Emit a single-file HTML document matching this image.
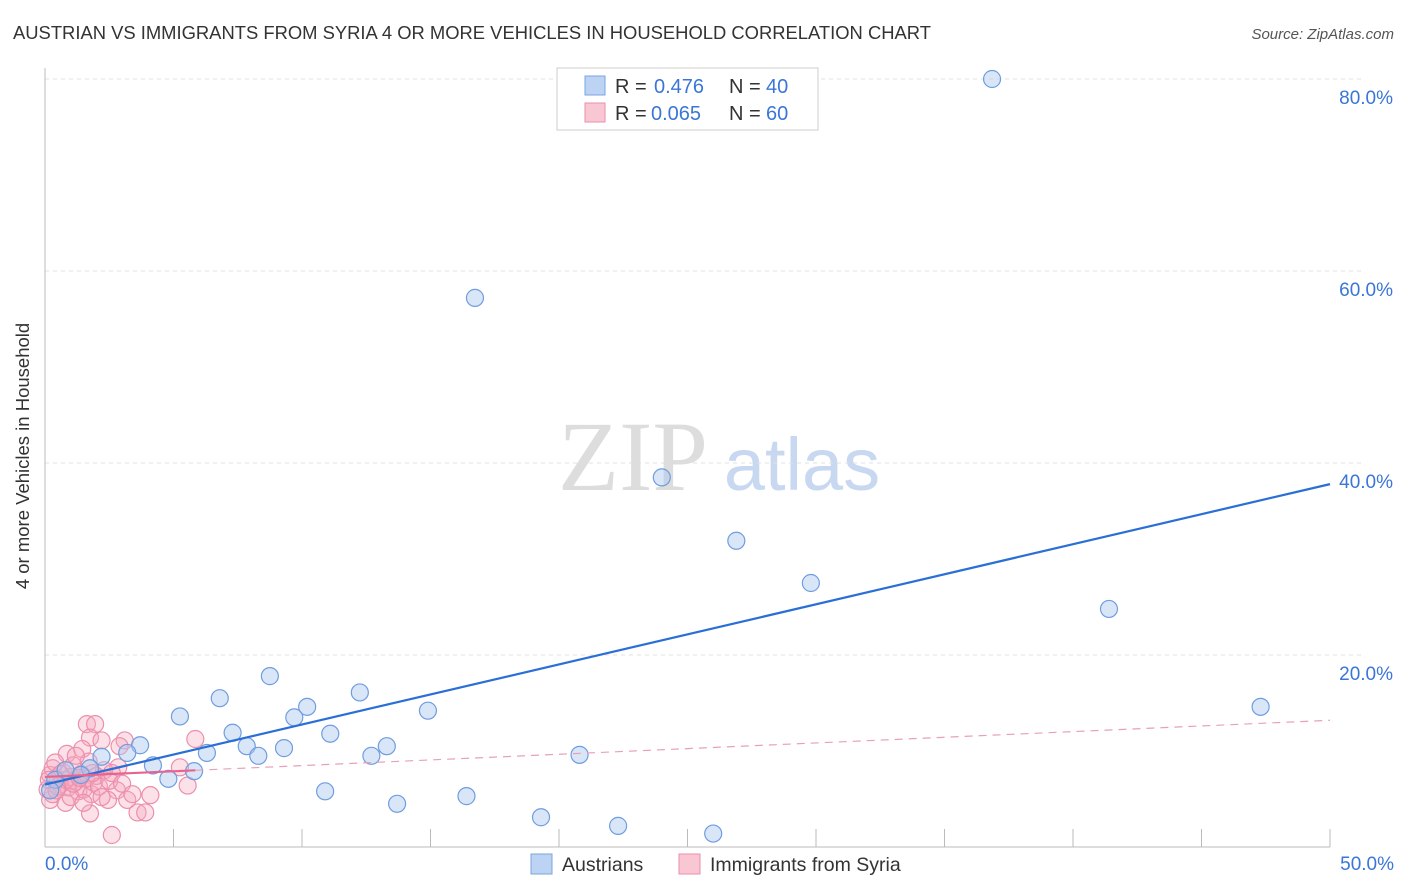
<!DOCTYPE html>
<html><head><meta charset="utf-8"><style>
body{margin:0;background:#fff;font-family:"Liberation Sans",sans-serif;}
svg{display:block}
</style></head><body>
<svg id="chart" width="1406" height="892">
<text x="13" y="39" font-size="18.4" fill="#333">AUSTRIAN VS IMMIGRANTS FROM SYRIA 4 OR MORE VEHICLES IN HOUSEHOLD CORRELATION CHART</text>
<text x="1394" y="39" font-size="15" fill="#555" font-style="italic" text-anchor="end">Source: ZipAtlas.com</text>
<text x="29" y="456" font-size="18.5" fill="#333" text-anchor="middle" transform="rotate(-90 29 456)">4 or more Vehicles in Household</text>
<g><text x="633" y="490" font-size="100" fill="#ddd" font-family="Liberation Serif" text-anchor="middle">ZIP</text><text x="802" y="490" font-size="74" fill="#c7d8f0" text-anchor="middle">atlas</text></g>
<g id="grid"></g><g id="axes"></g><g id="pts"></g><g id="lines"></g>
<g>
<rect x="557" y="68" width="261" height="62" fill="#fff" stroke="#ccc"/>
<rect x="585" y="76" width="20" height="19" fill="#bcd3f3" stroke="#7aa4e0"/>
<text x="615" y="93" font-size="20" fill="#333">R =</text><text x="654" y="93" font-size="20" fill="#3a76d8">0.476</text>
<text x="729" y="93" font-size="20" fill="#333">N =</text><text x="766" y="93" font-size="20" fill="#3a76d8">40</text>
<rect x="585" y="103" width="20" height="19" fill="#f9c6d4" stroke="#ea8fab"/>
<text x="615" y="120" font-size="20" fill="#333">R =</text><text x="651" y="120" font-size="20" fill="#3a76d8">0.065</text>
<text x="729" y="120" font-size="20" fill="#333">N =</text><text x="766" y="120" font-size="20" fill="#3a76d8">60</text>
</g>
<g>
<rect x="531" y="854" width="21" height="20" fill="#bcd3f3" stroke="#7aa4e0"/>
<text x="562" y="871" font-size="19.5" fill="#333">Austrians</text>
<rect x="679" y="854" width="21" height="20" fill="#f9c6d4" stroke="#ea8fab"/>
<text x="710" y="871" font-size="19.5" fill="#333">Immigrants from Syria</text>
</g>
</svg>
<script>
const xTicks=[0,5,10,15,20,25,30,35,40,45,50];
const yGrid=[20,40,60,80];
const yLabels=["20.0%","40.0%","60.0%","80.0%"];
const blueX=[36.85,16.73,24.0,26.9,29.8,41.4,47.3,8.75,6.8,12.25,5.25,10.2,9.7,14.9,7.3,11.1,3.7,7.85,9.3,13.3,3.2,6.3,8.3,12.7,20.8,2.2,4.2,5.8,4.8,1.75,10.9,16.4,13.7,19.3,22.3,26.0,0.4,0.8,1.4,0.2];
const blueY=[80,57.2,38.5,31.9,27.5,24.8,14.6,17.8,15.5,16.1,13.6,14.6,13.5,14.2,11.9,11.8,10.6,10.5,10.3,10.5,9.8,9.8,9.5,9.5,9.6,9.4,8.5,7.9,7.1,8.2,5.8,5.3,4.5,3.1,2.2,1.4,7.0,8.0,7.5,5.9];
const pinkX=[1.63,1.95,1.75,2.2,3.1,5.85,0.85,1.45,2.85,5.25,5.55,2.8,3.2,2.45,1.75,3.6,3.9,2.6,0.2,0.8,0.2,0.3,0.5,0.6,0.7,0.9,1.0,1.1,1.2,1.3,1.4,1.5,1.6,1.7,1.8,1.9,2.0,2.1,2.3,2.5,0.1,0.3,0.4,0.5,0.8,1.0,1.2,1.5,2.2,2.6,3.0,0.15,0.6,1.1,1.35,1.85,0.45,2.9,3.4,4.1];
const pinkY=[12.8,12.8,11.4,11.1,11.1,11.25,9.7,10.2,8.3,8.3,6.4,5.9,4.9,4.9,3.5,3.6,3.6,1.25,4.9,4.6,7.5,8.2,7.0,6.5,7.8,6.2,7.3,8.5,6.8,5.8,7.6,6.0,7.1,8.9,5.5,6.7,7.4,6.3,8.0,6.9,6.0,5.5,8.8,6.3,7.0,5.2,9.5,4.6,5.2,7.7,6.6,7.0,7.6,6.6,7.2,7.7,5.9,10.5,5.5,5.4];
// trendline coefficients [intercept, slope] as shown in the reference
const blueTrend=[6.5,0.626];
const pinkTrend=[7.3,0.118];
const X=v=>45+v*25.7, Y=v=>847-v*9.6;
const NS='http://www.w3.org/2000/svg';
function mk(t,a,p){const e=document.createElementNS(NS,t);for(const k in a)e.setAttribute(k,a[k]);p.appendChild(e);return e;}
const grid=document.getElementById('grid');
yGrid.forEach((g,i)=>{
 const l=mk('line',{x1:45,x2:1365,y1:Y(g),y2:Y(g),stroke:'#e0e0e0','stroke-dasharray':'4,4'},grid);
 
 
 const t=mk('text',{x:1393,y:Y(g)+25,'font-size':19,fill:'#3a76d8','text-anchor':'end'},grid);
 t.textContent=yLabels[i];
 
 
});
const ax=document.getElementById('axes');
mk('line',{x1:45,x2:45,y1:68,y2:847,stroke:'#bbb'},ax);
mk('line',{x1:45,x2:1330,y1:847,y2:847,stroke:'#bbb'},ax);
xTicks.forEach(v=>{const l=mk('line',{x1:X(v),x2:X(v),y1:829,y2:847,stroke:'#bbb'},ax);
 
 });
let t=mk('text',{x:45,y:870,'font-size':19,fill:'#3a76d8'},ax);t.textContent='0.0%';


t=mk('text',{x:1394,y:870,'font-size':19,fill:'#3a76d8','text-anchor':'end'},ax);t.textContent='50.0%';


const pts=document.getElementById('pts');
pinkX.forEach((x,i)=>{const c=mk('circle',{cx:X(x),cy:Y(pinkY[i]),r:8.5,fill:'rgba(246,170,192,0.35)',stroke:'#ec8fab','stroke-width':1.2},pts);
 
 });
blueX.forEach((x,i)=>{const c=mk('circle',{cx:X(x),cy:Y(blueY[i]),r:8.5,fill:'rgba(170,200,240,0.45)',stroke:'#6f9de0','stroke-width':1.2},pts);
 
 });
const ln=document.getElementById('lines');
const [ba,bb]=blueTrend;
let l=mk('line',{x1:X(0),y1:Y(ba),x2:X(50),y2:Y(ba+bb*50),stroke:'#2a6fd6','stroke-width':2.2},ln);


const [pa,pb]=pinkTrend;
const pmax=Math.max(...pinkX);
l=mk('line',{x1:X(0),y1:Y(pa),x2:X(pmax),y2:Y(pa+pb*pmax),stroke:'#e8638d','stroke-width':2.2},ln);


l=mk('line',{x1:X(pmax),y1:Y(pa+pb*pmax),x2:X(50),y2:Y(pa+pb*50),stroke:'#e8a0b8','stroke-width':1.2,'stroke-dasharray':'8,6'},ln);


</script>
</body></html>
